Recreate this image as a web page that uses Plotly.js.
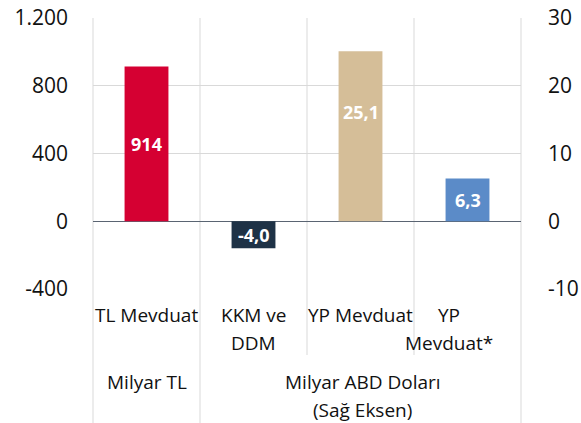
<!DOCTYPE html>
<html>
<head>
<meta charset="utf-8">
<script src="https://cdn.plot.ly/plotly-3.0.1.min.js"></script>
<style>html,body{margin:0;padding:0;background:#fff;}#chart{width:581px;height:423px;}</style>
</head>
<body>
<div id="chart"></div>
<script>
// Data
const categories = ['TL Mevduat', 'KKM ve DDM', 'YP Mevduat', 'YP Mevduat*'];
const labelLines = [['TL Mevduat'], ['KKM ve', 'DDM'], ['YP Mevduat'], ['YP', 'Mevduat*']];
const leftValues = [914];            // Milyar TL (left axis)
const rightValues = [-4.0, 25.1, 6.3]; // Milyar ABD Doları (right axis)
const leftTicks = [-400, 0, 400, 800, 1200];
const leftTickText = ['-400', '0', '400', '800', '1.200'];
const rightTicks = [-10, 0, 10, 20, 30];
const rightTickText = ['-10', '0', '10', '20', '30'];
const groupLabels = [['Milyar TL'], ['Milyar ABD Doları', '(Sağ Eksen)']];

const colors = ['#D50032', '#1E3246', '#D5BE98', '#5B8BC8'];
const labelFrac = [0.5, 0.64, 0.5]; // label height within right-axis bars (style)
const font = 'Open Sans, sans-serif';
const grid = '#D9D9D9';
const fmt = (v, d) => v.toFixed(d).replace('.', ',');
const labelFont = {family: font, size: 18, color: '#fff', weight: 'bold'};

const traces = [
  {
    type: 'bar', x: categories.slice(0, 1), y: leftValues, yaxis: 'y',
    width: 0.41, marker: {color: colors.slice(0, 1), line: {width: 0}},
    text: leftValues.map(v => fmt(v, 0)), textposition: 'inside', insidetextanchor: 'middle',
    textfont: labelFont, textangle: 0, hoverinfo: 'none', cliponaxis: false
  },
  {
    type: 'bar', x: categories.slice(1), y: rightValues, yaxis: 'y2',
    width: 0.41, marker: {color: colors.slice(1), line: {width: 0}},
    textposition: 'none', hoverinfo: 'none', cliponaxis: false
  }
];

const shapes = [];
const n = categories.length;
for (let i = 0; i <= n; i++) {
  const full = (i === 0 || i === 1 || i === n);
  shapes.push({
    type: 'line', xref: 'paper', yref: 'paper', x0: i / n, x1: i / n,
    y0: 1, y1: full ? -134 / 271 : -66 / 271,
    line: {color: grid, width: 1}, layer: 'below'
  });
}

const annotations = [];
rightValues.forEach((v, i) => {
  annotations.push({
    xref: 'x', yref: 'y2', x: categories[i + 1], y: v * labelFrac[i],
    xanchor: 'center', yanchor: 'middle', text: fmt(v, 1), showarrow: false, font: labelFont
  });
});
const rowCenters1 = [315, 343];
categories.forEach((c, i) => {
  labelLines[i].forEach((t, j) => {
    annotations.push({
      xref: 'x', yref: 'paper', x: c, y: 0, yanchor: 'middle', xanchor: 'center',
      yshift: -(rowCenters1[j] - 289), xshift: i === 3 ? -19 : 0,
      text: t, showarrow: false, font: {family: font, size: 19, color: '#111'}
    });
  });
});
const rowCenters2 = [382, 410];
groupLabels.forEach((lines, g) => {
  lines.forEach((t, j) => {
    annotations.push({
      xref: 'paper', yref: 'paper', x: g === 0 ? 0.125 : 0.625 + 0.005, y: 0,
      yanchor: 'middle', xanchor: 'center', yshift: -(rowCenters2[j] - 289),
      text: t, showarrow: false, font: {family: font, size: 19, color: '#111'}
    });
  });
});

const layout = {
  width: 581, height: 423,
  margin: {l: 93, r: 60, t: 18, b: 134, pad: 0},
  paper_bgcolor: '#fff', plot_bgcolor: '#fff',
  separators: ',.',
  barmode: 'overlay',
  showlegend: false,
  font: {family: font, color: '#111'},
  xaxis: {
    type: 'category', categoryorder: 'array', categoryarray: categories,
    range: [-0.5, 3.5], showticklabels: false, showgrid: false, zeroline: false,
    showline: false, ticks: '', fixedrange: true
  },
  yaxis: {
    range: [-400, 1200], tickvals: leftTicks, ticktext: leftTickText,
    showgrid: true, gridcolor: grid, gridwidth: 1,
    zeroline: true, zerolinecolor: '#5A6472', zerolinewidth: 1.3,
    showline: false, ticks: '', ticklabelstandoff: 24,
    tickfont: {family: font, size: 21, color: '#111'}, fixedrange: true
  },
  yaxis2: {
    range: [-10, 30], tickvals: rightTicks, ticktext: rightTickText, overlaying: 'y', side: 'right',
    showgrid: false, zeroline: false, showline: false, ticks: '', ticklabelstandoff: 26,
    tickfont: {family: font, size: 21, color: '#111'}, fixedrange: true
  },
  shapes: shapes,
  annotations: annotations
};

Plotly.newPlot('chart', traces, layout, {displayModeBar: false, staticPlot: true});
</script>
</body>
</html>
